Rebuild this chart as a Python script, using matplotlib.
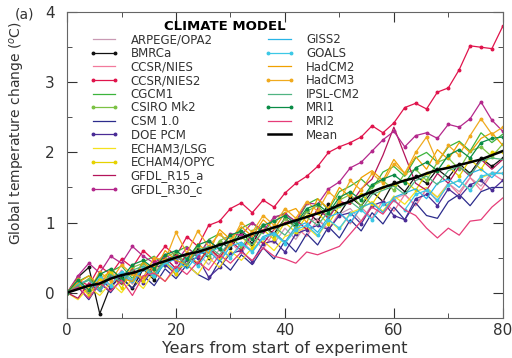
import numpy as np
import matplotlib
matplotlib.use("Agg")
import matplotlib.pyplot as plt
from matplotlib.lines import Line2D
from matplotlib.ticker import MultipleLocator

# years 0..80, every second year
years = np.arange(0, 81, 2)

arpege = [0.00, 0.12, -0.02, 0.18, 0.08, 0.28, 0.12, 0.34, 0.22, 0.44,
          0.30, 0.48, 0.56, 0.40, 0.62, 0.50, 0.72, 0.60, 0.80, 0.70,
          0.92, 0.76, 0.98, 1.06, 0.90, 1.12, 1.20, 1.02, 1.26, 1.16,
          1.34, 1.40, 1.24, 1.48, 1.36, 1.56, 1.44, 1.64, 1.52, 1.72,
          1.70]
bmrca = [0.00, 0.22, 0.36, -0.30, 0.10, 0.22, 0.06, 0.34, 0.18, 0.46,
         0.54, 0.38, 0.62, 0.50, 0.72, 0.64, 0.86, 0.70, 0.96, 0.84,
         1.06, 0.94, 1.16, 1.02, 1.26, 1.12, 1.36, 1.24, 1.44, 1.30,
         1.58, 1.44, 1.66, 1.56, 1.76, 1.64, 1.84, 1.70, 1.92, 1.80,
         1.92]
ccsr_nies = [0.00, 0.16, 0.02, 0.26, 0.10, 0.32, 0.16, 0.42, 0.26, 0.50,
             0.34, 0.56, 0.42, 0.64, 0.46, 0.72, 0.56, 0.80, 0.62, 0.86,
             0.72, 0.94, 0.80, 1.04, 0.90, 1.14, 0.98, 1.22, 1.06, 1.32,
             1.16, 1.40, 1.24, 1.48, 1.30, 1.56, 1.40, 1.64, 1.46, 1.70,
             1.60]
ccsr_nies2 = [0.00, 0.18, 0.10, 0.38, 0.26, 0.48, 0.36, 0.60, 0.46, 0.66,
              0.52, 0.80, 0.66, 0.96, 1.02, 1.20, 1.28, 1.14, 1.32, 1.22,
              1.42, 1.56, 1.66, 1.80, 2.00, 2.08, 2.14, 2.22, 2.38, 2.28,
              2.42, 2.64, 2.70, 2.62, 2.86, 2.92, 3.18, 3.52, 3.50, 3.48,
              3.80]
cgcm1 = [0.00, 0.16, 0.24, 0.06, 0.30, 0.38, 0.20, 0.44, 0.52, 0.36,
         0.58, 0.66, 0.50, 0.76, 0.84, 0.68, 0.92, 1.00, 0.84, 1.06,
         1.14, 1.00, 1.26, 1.34, 1.18, 1.44, 1.52, 1.62, 1.48, 1.72,
         1.80, 1.66, 1.92, 2.00, 1.86, 2.08, 2.16, 2.02, 2.28, 2.14,
         2.26]
csiro = [0.00, 0.10, 0.20, 0.04, 0.28, 0.14, 0.36, 0.42, 0.24, 0.50,
         0.58, 0.40, 0.66, 0.52, 0.74, 0.82, 0.64, 0.88, 0.96, 0.80,
         1.06, 0.92, 1.16, 1.24, 1.08, 1.32, 1.40, 1.24, 1.52, 1.60,
         1.46, 1.70, 1.76, 1.60, 1.86, 1.92, 1.76, 2.02, 2.08, 1.94,
         2.12]
csm = [0.00, 0.08, -0.10, 0.14, 0.00, 0.20, 0.06, 0.24, 0.10, 0.34,
       0.20, 0.40, 0.26, 0.18, 0.46, 0.32, 0.54, 0.40, 0.64, 0.48,
       0.74, 0.58, 0.84, 0.68, 0.94, 0.78, 1.04, 0.88, 1.14, 0.98,
       1.22, 1.04, 1.28, 1.10, 1.06, 1.30, 1.40, 1.24, 1.44, 1.50,
       1.50]
doe_pcm = [0.00, 0.14, 0.00, 0.20, 0.06, 0.26, 0.30, 0.14, 0.36, 0.40,
           0.26, 0.46, 0.50, 0.22, 0.36, 0.56, 0.60, 0.44, 0.70, 0.74,
           0.58, 0.84, 0.90, 0.96, 0.90, 1.10, 1.14, 0.98, 1.24, 1.30,
           1.10, 1.04, 1.34, 1.40, 1.24, 1.48, 1.36, 1.54, 1.60, 1.46,
           1.60]
echam3 = [0.00, -0.10, 0.08, -0.04, 0.14, 0.00, 0.20, 0.06, 0.30, 0.16,
          0.34, 0.40, 0.26, 0.50, 0.36, 0.60, 0.46, 0.64, 0.74, 0.60,
          0.80, 0.86, 0.94, 0.80, 1.04, 0.90, 1.14, 1.20, 1.30, 1.16,
          1.38, 1.26, 1.44, 1.50, 1.36, 1.54, 1.60, 1.46, 1.64, 1.70,
          1.70]
echam4 = [0.00, 0.14, -0.04, 0.20, 0.30, 0.06, 0.34, 0.16, 0.40, 0.44,
          0.26, 0.54, 0.42, 0.64, 0.50, 0.70, 0.80, 0.64, 0.90, 0.76,
          1.00, 0.86, 1.10, 1.14, 0.98, 1.24, 1.30, 1.40, 1.26, 1.50,
          1.54, 1.60, 1.46, 1.70, 1.74, 1.80, 1.66, 1.90, 1.76, 2.00,
          2.00]
gfdl_r15 = [0.00, -0.08, 0.14, 0.02, 0.24, 0.12, 0.34, 0.20, 0.40, 0.50,
            0.34, 0.54, 0.40, 0.64, 0.50, 0.74, 0.60, 0.84, 0.70, 0.90,
            1.00, 1.04, 0.90, 1.20, 1.06, 1.30, 1.26, 1.48, 1.62, 1.96,
            2.36, 1.96, 1.56, 1.46, 1.70, 1.56, 1.80, 1.66, 1.90, 1.76,
            1.90]
gfdl_r30 = [0.00, 0.24, 0.42, 0.28, 0.52, 0.42, 0.66, 0.52, 0.42, 0.54,
            0.44, 0.64, 0.52, 0.74, 0.62, 0.84, 0.82, 1.00, 0.88, 1.08,
            1.12, 1.02, 1.28, 1.26, 1.48, 1.58, 1.78, 1.86, 2.02, 2.18,
            2.30, 2.08, 2.24, 2.28, 2.20, 2.40, 2.36, 2.48, 2.72, 2.46,
            2.30]
giss2 = [0.00, 0.12, 0.18, 0.02, 0.22, 0.28, 0.14, 0.34, 0.22, 0.42,
         0.48, 0.34, 0.54, 0.60, 0.44, 0.66, 0.72, 0.58, 0.80, 0.86,
         0.72, 0.94, 1.00, 0.86, 1.08, 1.14, 1.00, 1.22, 1.28, 1.14,
         1.36, 1.42, 1.48, 1.34, 1.56, 1.62, 1.50, 1.70, 1.76, 1.64,
         1.80]
goals = [0.00, 0.16, 0.02, 0.24, 0.10, 0.30, 0.18, 0.36, 0.24, 0.44,
         0.32, 0.50, 0.38, 0.58, 0.64, 0.50, 0.70, 0.58, 0.78, 0.84,
         0.70, 0.90, 0.96, 0.82, 1.04, 0.92, 1.12, 1.18, 1.04, 1.26,
         1.32, 1.18, 1.40, 1.46, 1.32, 1.54, 1.60, 1.46, 1.66, 1.70,
         1.70]
hadcm2 = [0.00, 0.14, 0.24, 0.10, 0.34, 0.20, 0.16, 0.44, 0.30, 0.60,
          0.46, 0.40, 0.70, 0.56, 0.90, 0.76, 0.94, 0.80, 1.04, 0.90,
          1.14, 1.20, 1.00, 1.34, 1.20, 1.50, 1.36, 1.64, 1.74, 1.60,
          1.90, 1.70, 1.94, 1.76, 2.04, 1.90, 2.14, 2.00, 2.20, 2.28,
          2.10]
hadcm3 = [0.00, 0.20, 0.02, 0.30, 0.16, 0.40, 0.26, 0.22, 0.50, 0.46,
          0.86, 0.56, 0.88, 0.66, 0.84, 0.70, 1.00, 0.86, 1.10, 0.96,
          1.20, 1.06, 1.30, 1.16, 1.44, 1.30, 1.60, 1.46, 1.70, 1.56,
          1.84, 1.70, 2.00, 2.22, 1.86, 2.10, 1.96, 2.24, 2.48, 2.26,
          2.36]
ipsl = [0.00, 0.10, 0.18, 0.06, 0.26, 0.14, 0.32, 0.38, 0.26, 0.46,
        0.52, 0.40, 0.60, 0.66, 0.54, 0.74, 0.80, 0.68, 0.88, 0.94,
        0.82, 1.02, 1.08, 0.96, 1.16, 1.22, 1.30, 1.18, 1.40, 1.46,
        1.52, 1.40, 1.60, 1.66, 1.54, 1.74, 1.80, 1.68, 1.88, 1.92,
        1.90]
mri1 = [0.00, 0.18, 0.04, 0.26, 0.34, 0.20, 0.40, 0.46, 0.34, 0.54,
        0.60, 0.48, 0.68, 0.74, 0.62, 0.82, 0.88, 0.76, 0.96, 1.02,
        1.10, 0.98, 1.20, 1.26, 1.14, 1.36, 1.44, 1.32, 1.54, 1.62,
        1.68, 1.56, 1.78, 1.86, 1.74, 1.96, 2.04, 1.92, 2.14, 2.20,
        2.22]
mri2 = [0.00, 0.08, -0.08, 0.14, 0.02, 0.18, -0.04, 0.24, 0.28, 0.16,
        0.38, 0.26, 0.44, 0.32, 0.54, 0.42, 0.58, 0.46, 0.64, 0.52,
        0.48, 0.42, 0.58, 0.54, 0.60, 0.66, 0.84, 1.02, 1.22, 1.12,
        1.32, 1.18, 1.10, 0.92, 0.78, 0.92, 0.82, 1.02, 1.04, 1.22,
        1.35]
mean = [0.00, 0.05, 0.10, 0.13, 0.20, 0.25, 0.28, 0.33, 0.40, 0.45,
        0.50, 0.55, 0.58, 0.63, 0.68, 0.73, 0.78, 0.84, 0.88, 0.93,
        0.98, 1.03, 1.08, 1.13, 1.18, 1.25, 1.30, 1.38, 1.44, 1.50,
        1.55, 1.60, 1.64, 1.70, 1.75, 1.78, 1.82, 1.86, 1.90, 1.96,
        2.02]

# (label, values, colour, dotted markers?)
models = [
    ("ARPEGE/OPA2", arpege, "#c99ab4", False),
    ("BMRCa", bmrca, "#111111", True),
    ("CCSR/NIES", ccsr_nies, "#f27a9c", False),
    ("CCSR/NIES2", ccsr_nies2, "#e0144c", True),
    ("CGCM1", cgcm1, "#3cb43c", False),
    ("CSIRO Mk2", csiro, "#7cc244", True),
    ("CSM 1.0", csm, "#2c2c8c", False),
    ("DOE PCM", doe_pcm, "#4a2c96", True),
    ("ECHAM3/LSG", echam3, "#f5e11e", False),
    ("ECHAM4/OPYC", echam4, "#e6d200", True),
    ("GFDL_R15_a", gfdl_r15, "#b4145a", False),
    ("GFDL_R30_c", gfdl_r30, "#b4288c", True),
    ("GISS2", giss2, "#28b4e6", False),
    ("GOALS", goals, "#3cc8e6", True),
    ("HadCM2", hadcm2, "#f0a000", False),
    ("HadCM3", hadcm3, "#f0aa1e", True),
    ("IPSL-CM2", ipsl, "#50b482", False),
    ("MRI1", mri1, "#0a8c46", True),
    ("MRI2", mri2, "#e63c78", False),
]

fig = plt.figure(figsize=(5.12, 3.58), dpi=100)
ax = fig.add_axes([0.131, 0.112, 0.851, 0.854])

handles = []
for label, vals, color, dotted in models:
    if dotted:
        h, = ax.plot(years, vals, color=color, lw=0.9, marker='o', ms=1.8,
                     label=label)
    else:
        h, = ax.plot(years, vals, color=color, lw=0.9, label=label)
    handles.append(h)
h, = ax.plot(years, mean, color='black', lw=1.8, label='Mean')
handles.append(h)

ax.set_xlim(0, 80)
ax.set_ylim(-0.36, 4)
ax.xaxis.set_major_locator(MultipleLocator(20))
ax.xaxis.set_minor_locator(MultipleLocator(10))
ax.yaxis.set_major_locator(MultipleLocator(1))
ax.yaxis.set_minor_locator(MultipleLocator(0.5))
ax.tick_params(which='both', direction='in', top=True, right=True,
               labelsize=11, colors='#333333')
ax.tick_params(which='major', length=7)
ax.tick_params(which='minor', length=3.5)
ax.tick_params(axis='y', pad=9)
for s in ax.spines.values():
    s.set_color('#666666')
    s.set_linewidth(0.8)

ax.set_xlabel('Years from start of experiment', fontsize=11.5, color='#333333',
              labelpad=2)
ax.set_ylabel(r'Global temperature change ($^{o}$C)', fontsize=10,
              color='#333333')
ax.yaxis.set_label_coords(-0.092, 0.605)
fig.text(15 / 512, 1 - 14 / 358, '(a)', fontsize=10, color='#333333',
         va='center')

# 12 entries in first column, 8 (+4 blanks) in second
blank = Line2D([], [], linestyle='none')
leg_handles = handles + [blank] * 4
leg_labels = [h.get_label() for h in handles] + [''] * 4
leg = ax.legend(leg_handles, leg_labels, ncol=2, frameon=False,
                title='CLIMATE MODEL', fontsize=8.5, numpoints=2,
                handlelength=2.5, handletextpad=1.0, columnspacing=4.2,
                labelspacing=0.05, borderpad=0, borderaxespad=0,
                loc='upper left', bbox_to_anchor=(0.051, 0.975))
leg.get_title().set_fontweight('bold')
leg.get_title().set_fontsize(9.5)
for t in leg.get_texts():
    t.set_color('#333333')

fig.savefig('out.png', dpi=100)
